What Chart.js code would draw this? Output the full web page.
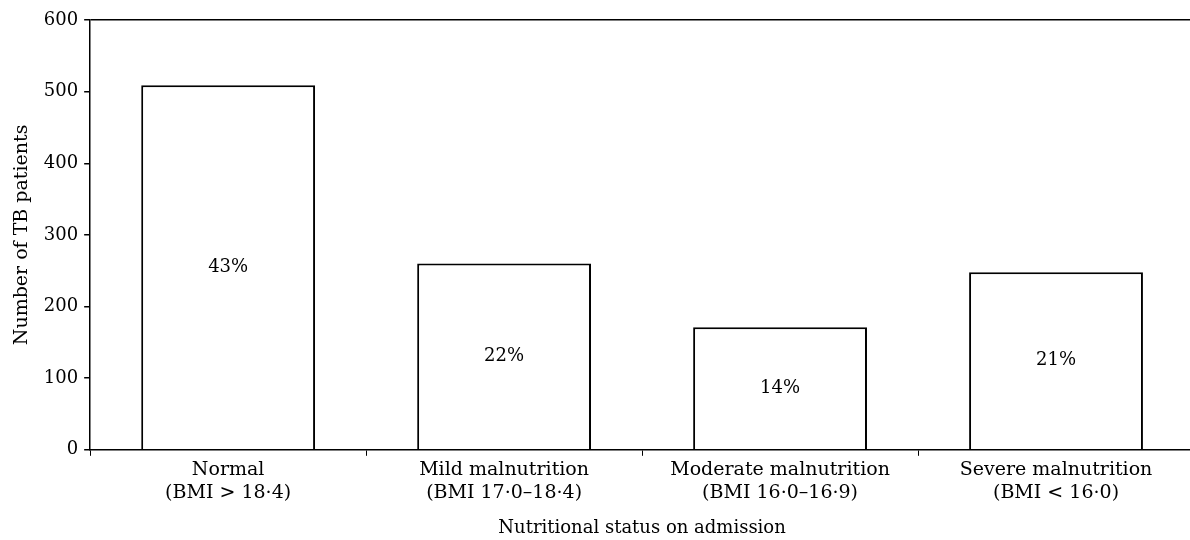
<!DOCTYPE html>
<html>
<head>
<meta charset="utf-8">
<script src="https://cdn.jsdelivr.net/npm/chart.js@4/dist/chart.umd.min.js"></script>
<style>
  html, body { margin: 0; padding: 0; background: #fff; overflow: hidden; }
  #wrap { width: 1194px; height: 540px; }
</style>
</head>
<body>
<div id="wrap"><canvas id="tbChart"></canvas></div>
<script>
// Nutritional status of TB patients on admission
const categories = [
  ['Normal', '(BMI > 18·4)'],
  ['Mild malnutrition', '(BMI 17·0–18·4)'],
  ['Moderate malnutrition', '(BMI 16·0–16·9)'],
  ['Severe malnutrition', '(BMI < 16·0)']
];
const patients = [509, 260, 171, 248];
const shares = ['43%', '22%', '14%', '21%'];
const yMax = 600;
const yStep = 100;

const serif = 'DejaVu Serif';

// writes the percentage in the middle of each bar
const shareLabels = {
  id: 'shareLabels',
  afterDatasetsDraw(chart) {
    const ctx = chart.ctx;
    const meta = chart.getDatasetMeta(0);
    ctx.save();
    ctx.font = '18px "' + serif + '"';
    ctx.fillStyle = '#000';
    ctx.textAlign = 'center';
    ctx.textBaseline = 'middle';
    meta.data.forEach((bar, i) => {
      ctx.fillText(shares[i], bar.x, (bar.y + bar.base) / 2);
    });
    ctx.restore();
  }
};

const ctx = document.getElementById('tbChart').getContext('2d');
new Chart(ctx, {
  type: 'bar',
  data: {
    labels: categories,
    datasets: [{
      label: 'Number of TB patients',
      data: patients,
      backgroundColor: '#fff',
      borderColor: '#000',
      borderWidth: 2,
      barPercentage: 0.63,
      categoryPercentage: 1
    }]
  },
  options: {
    responsive: true,
    maintainAspectRatio: false,
    animation: false,
    layout: { padding: { left: 11, top: 20, right: 0, bottom: 1 } },
    plugins: {
      legend: { display: false },
      tooltip: { enabled: false }
    },
    scales: {
      x: {
        offset: true,
        border: { color: '#000', width: 1.5 },
        grid: {
          offset: true,
          drawOnChartArea: false,
          tickLength: 6,
          tickColor: '#000'
        },
        ticks: {
          color: '#000',
          font: { family: serif, size: 19 },
          padding: 3,
          maxRotation: 0
        },
        title: {
          display: true,
          text: 'Nutritional status on admission',
          color: '#000',
          font: { family: serif, size: 18 },
          padding: { top: 10, bottom: 0 }
        }
      },
      y: {
        min: 0,
        max: yMax,
        border: { color: '#000', width: 1.5 },
        grid: {
          color: (c) => (c.tick && c.tick.value === yMax ? '#000' : 'rgba(0,0,0,0)'),
          lineWidth: 1.5,
          tickLength: 6,
          tickColor: '#000'
        },
        ticks: {
          stepSize: yStep,
          color: '#000',
          font: { family: serif, size: 18 },
          padding: 6
        },
        title: {
          display: true,
          text: 'Number of TB patients',
          color: '#000',
          font: { family: serif, size: 19 },
          padding: { top: 0, bottom: 4 }
        }
      }
    }
  },
  plugins: [shareLabels]
});
</script>
</body>
</html>
